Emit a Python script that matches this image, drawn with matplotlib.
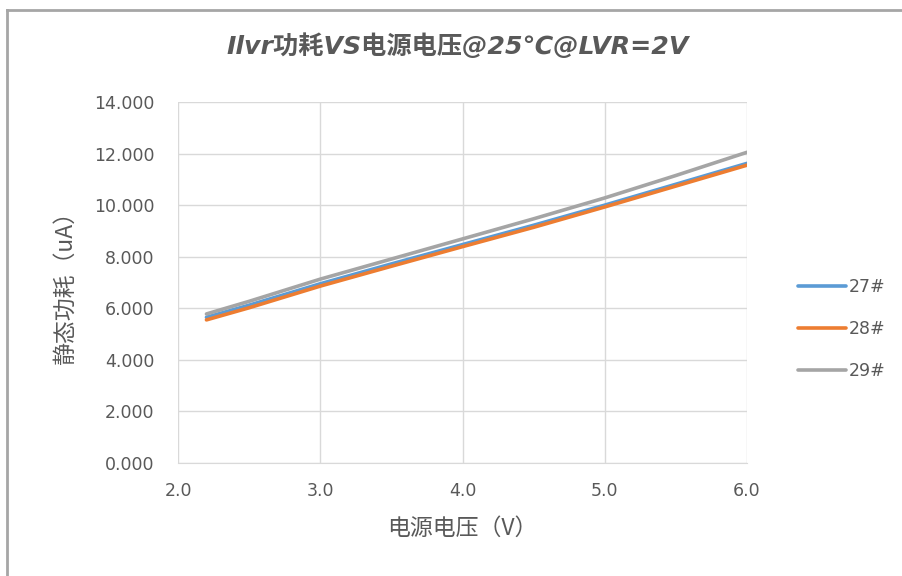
import matplotlib
matplotlib.use("Agg")
import matplotlib.pyplot as plt
from matplotlib.lines import Line2D
from matplotlib.ticker import FormatStrFormatter

plt.rcParams["font.family"] = ["DejaVu Sans", "Noto Sans CJK SC"]

# data
voltage = [2.2, 2.5, 3.0, 3.5, 4.0, 4.5, 5.0, 5.5, 6.0]
current_27 = [5.65, 6.12, 6.95, 7.72, 8.47, 9.22, 10.00, 10.81, 11.62]
current_28 = [5.55, 6.02, 6.86, 7.63, 8.39, 9.14, 9.93, 10.74, 11.55]
current_29 = [5.78, 6.27, 7.13, 7.91, 8.69, 9.47, 10.28, 11.15, 12.05]
series = [("27#", current_27, "#5b9bd5"),
          ("28#", current_28, "#ed7d31"),
          ("29#", current_29, "#a5a5a5")]
x_ticks = [2.0, 3.0, 4.0, 5.0, 6.0]
y_ticks = [0, 2, 4, 6, 8, 10, 12, 14]

TEXT = "#595959"
GRID = "#d9d9d9"
CJK = ["Noto Sans CJK SC", "DejaVu Sans"]

fig = plt.figure(figsize=(9.02, 5.76), dpi=100)
ax = fig.add_axes([178 / 902, 113 / 576, 569 / 902, 361 / 576])

for name, vals, color in series:
    ax.plot(voltage, vals, color=color, linewidth=2.6, label=name,
            solid_capstyle="round")

ax.set_xlim(2.0, 6.0)
ax.set_ylim(0, 14)
ax.set_xticks(x_ticks)
ax.set_yticks(y_ticks)
ax.xaxis.set_major_formatter(FormatStrFormatter("%.1f"))
ax.yaxis.set_major_formatter(FormatStrFormatter("%.3f"))
ax.tick_params(length=0, labelsize=12.5, colors=TEXT)
ax.tick_params(axis="y", pad=17)
ax.tick_params(axis="x", pad=14)
ax.grid(True, color=GRID, linewidth=1.0)
for side in ["top", "right", "left"]:
    ax.spines[side].set_visible(False)
ax.spines["bottom"].set_color(GRID)

ax.set_xlabel("电源电压（V）", fontsize=16.5, color=TEXT, labelpad=12,
              family=CJK)
ax.set_ylabel("静态功耗（uA）", fontsize=16.5, color=TEXT, labelpad=12,
              family=CJK)

fig.text(458 / 902, 1 - 46 / 576, "Ilvr功耗VS电源电压@25℃@LVR=2V", ha="center",
         va="center", fontsize=18.2, color=TEXT, fontweight="bold",
         style="italic", family=["DejaVu Sans", "Noto Sans CJK SC"])

leg = fig.legend(loc="center left", bbox_to_anchor=(798 / 902, 1 - 329 / 576),
                 frameon=False, fontsize=12.5, labelspacing=1.38,
                 borderpad=0, borderaxespad=0,
                 handlelength=2.75, handletextpad=0.15)
for t in leg.get_texts():
    t.set_color(TEXT)

# chart frame (only left and top edges are visible in the crop)
fig.add_artist(Line2D([7 / 902, 7 / 902], [0, 1 - 10 / 576],
                      transform=fig.transFigure, color="#a6a6a6", linewidth=2))
fig.add_artist(Line2D([7 / 902, 1], [1 - 10 / 576, 1 - 10 / 576],
                      transform=fig.transFigure, color="#a6a6a6", linewidth=2))

fig.savefig("out.png", dpi=100)
